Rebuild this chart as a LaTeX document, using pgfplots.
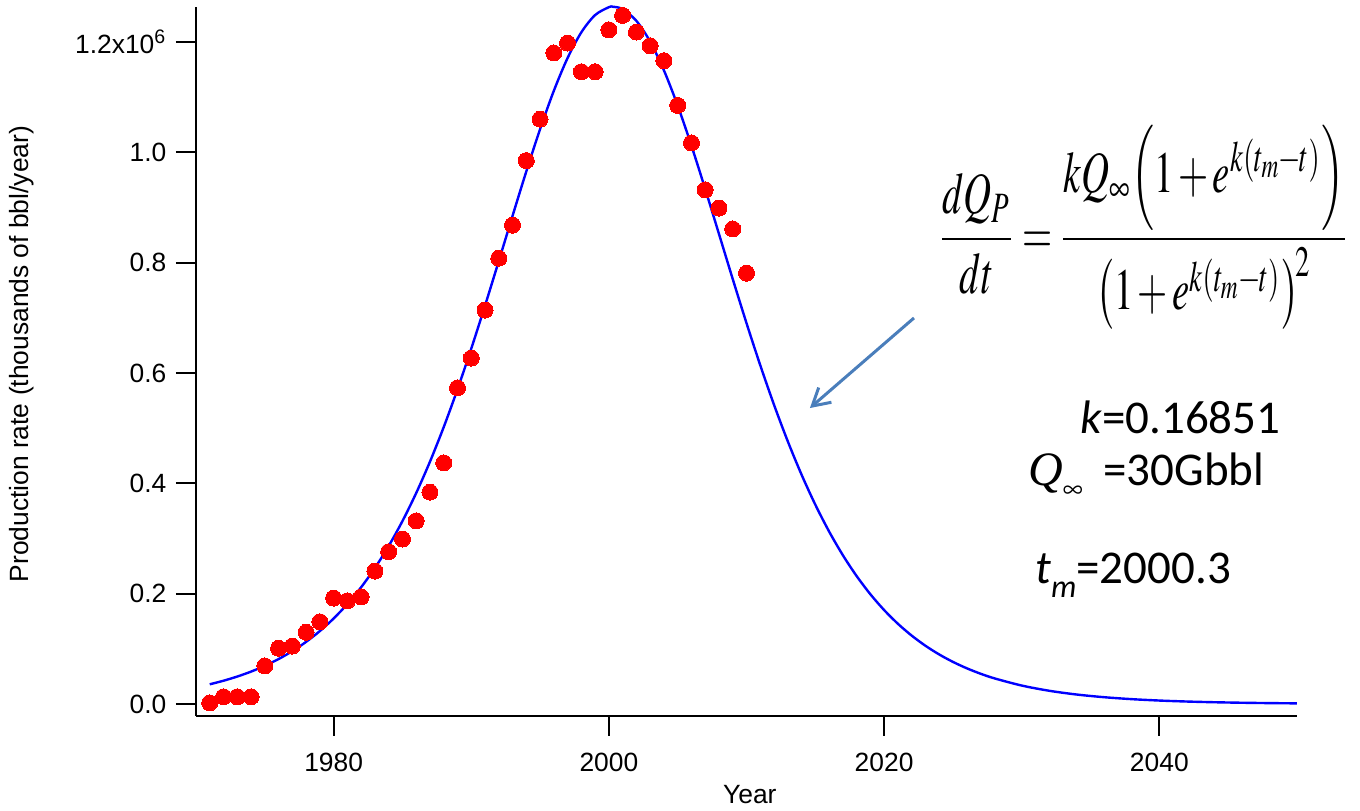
\documentclass[border=0pt]{standalone}
\usepackage{mathptmx}
\usepackage[no-math]{fontspec}
\setmainfont{Liberation Sans}
\newfontfamily\carlito{Carlito}
\newfontfamily\tnr{Liberation Serif}
\usepackage{graphicx}
\usepackage{pgfplots}
\pgfplotsset{compat=1.18}
\usetikzlibrary{arrows.meta}
\definecolor{arrowblue}{RGB}{74,126,187}

\pgfplotstableread{
year prod
1971 0.002
1972 0.013
1973 0.013
1974 0.013
1975 0.069
1976 0.101
1977 0.105
1978 0.130
1979 0.149
1980 0.192
1981 0.187
1982 0.194
1983 0.241
1984 0.276
1985 0.299
1986 0.332
1987 0.384
1988 0.437
1989 0.573
1990 0.627
1991 0.714
1992 0.808
1993 0.868
1994 0.985
1995 1.060
1996 1.180
1997 1.198
1998 1.146
1999 1.146
2000 1.222
2001 1.248
2002 1.218
2003 1.193
2004 1.166
2005 1.085
2006 1.017
2007 0.932
2008 0.899
2009 0.861
2010 0.781
}\observed

\pgfplotstableread{
year fit
1971 0.03575
1972 0.04220
1973 0.04980
1974 0.05872
1975 0.06920
1976 0.08148
1977 0.09586
1978 0.11265
1979 0.13222
1980 0.15495
1981 0.18128
1982 0.21165
1983 0.24651
1984 0.28632
1985 0.33150
1986 0.38237
1987 0.43916
1988 0.50189
1989 0.57036
1990 0.64404
1991 0.72197
1992 0.80281
1993 0.88468
1994 0.96525
1995 1.04182
1996 1.11138
1997 1.17090
1998 1.21749
1999 1.24876
2000 1.26301
2000.3 1.26383
2001 1.25944
2002 1.23825
2003 1.20062
2004 1.14855
2005 1.08467
2006 1.01195
2007 0.93343
2008 0.85203
2009 0.77032
2010 0.69045
2011 0.61407
2012 0.54238
2013 0.47616
2014 0.41578
2015 0.36137
2016 0.31280
2017 0.26981
2018 0.23202
2019 0.19901
2020 0.17031
2021 0.14547
2022 0.12405
2023 0.10564
2024 0.08985
2025 0.07635
2026 0.06481
2027 0.05499
2028 0.04662
2030 0.03346
2032 0.02398
2034 0.01716
2036 0.01231
2038 0.00879
2040 0.00628
2042 0.00449
2044 0.00320
2046 0.00229
2048 0.00163
2050 0.00117
}\fitted

\newcommand{\pl}{\mkern2mu\mathord{+}\mkern2mu}
\newcommand{\ex}{e^{k(t_m\mkern-1mu\mathord{-}\mkern-1mu t)}}

\begin{document}
\begin{tikzpicture}
\begin{axis}[
    scale only axis,
    width=550.5pt, height=354.5pt,
    xmin=1970, xmax=2050,
    ymin=-0.0212, ymax=1.2639,
    axis x line*=bottom, axis y line*=left,
    axis line style={-, line width=1pt},
    every tick/.style={black, line width=1pt},
    tick align=outside,
    major tick length=10pt,
    xtick={1980,2000,2020,2040},
    xticklabels={1980,2000,2020,2040},
    ytick={0,0.2,0.4,0.6,0.8,1.0,1.2},
    yticklabels={0.0,0.2,0.4,0.6,0.8,1.0,1.2x10\textsuperscript{6}},
    minor tick num=0,
    tick label style={font=\fontsize{13.2}{15}\selectfont},
    xticklabel style={anchor=north, inner sep=0pt, yshift=-8.5pt},
    yticklabel style={anchor=east, inner sep=0pt, xshift=-4.65pt},
    xlabel={Year},
    ylabel={Production rate (thousands of bbl/year)},
    label style={font=\fontsize{13.2}{15}\selectfont},
    xlabel style={at={(axis description cs:0.503,0)}, anchor=north, inner sep=0pt, yshift=-34.6pt},
    ylabel style={at={(axis description cs:-0.158,0.51)}, anchor=center, rotate=0},
    clip=false,
]
\addplot[blue, line width=1.2pt, smooth] table[x=year, y=fit] {\fitted};
\addplot[red, only marks, mark=*, mark size=4pt, mark options={fill=red, draw=red, line width=0pt}] table[x=year, y=prod] {\observed};

\draw[arrowblue, line width=1.5pt, -{Straight Barb[length=8.5pt, width=9.75pt]}]
    (axis cs:2022.17,0.6997) -- (axis cs:2014.61,0.5365);

\node[inner sep=0pt] at (axis cs:2038.85,0.8637) {\resizebox*{206pt}{102pt}{$\displaystyle
    \frac{dQ_P}{dt}\mkern3mu\mathord{=}\mkern3mu\frac{kQ_\infty\mkern-2mu\left(1\pl\ex\right)}{\left(1\pl\ex\right)^{\!2}}$}};

\node[anchor=base west, inner sep=0pt, font=\carlito\fontsize{23.5}{28}\selectfont]
    at (axis cs:2034.23,0.4912) {\textit{k}=0.16851};
\node[anchor=base west, inner sep=0pt, font=\tnr\fontsize{24}{28}\selectfont]
    at (axis cs:2030.45,0.3952) {\textit{Q}\raisebox{-0.25em}{\fontsize{14}{16}\selectfont$\infty$}};
\node[anchor=base west, inner sep=0pt, font=\carlito\fontsize{23.5}{28}\selectfont]
    at (axis cs:2035.90,0.3952) {=30Gbbl};
\node[anchor=base west, inner sep=0pt, font=\carlito\fontsize{23.5}{28}\selectfont]
    at (axis cs:2030.96,0.2188) {\textit{t}\raisebox{-0.3em}{\fontsize{16}{18}\selectfont\textit{m}}=2000.3};
\end{axis}
\pgfresetboundingbox
\path[use as bounding box] (current axis.south west) ++(-98pt,-47.15pt) rectangle ++(680pt,405pt);
\end{tikzpicture}
\end{document}
